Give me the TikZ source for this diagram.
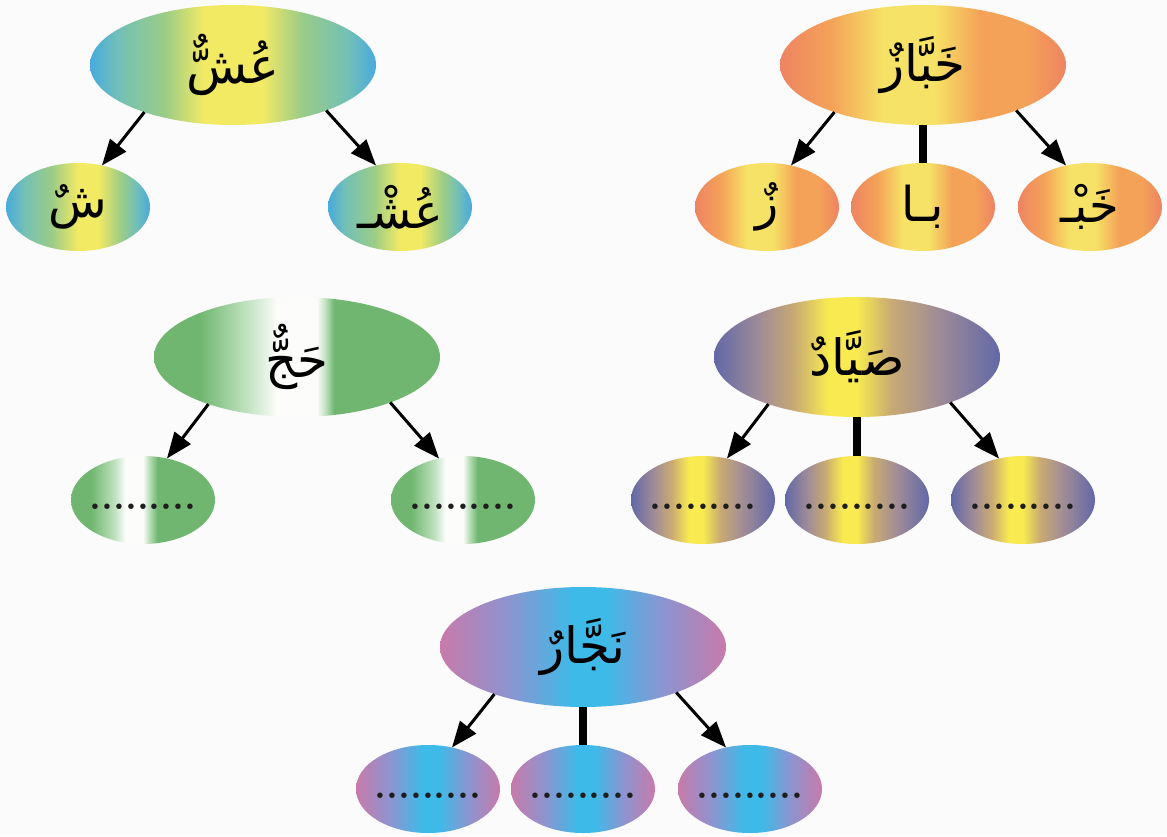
\documentclass[tikz,border=0pt]{standalone}
\usepackage{fontspec}
\usetikzlibrary{shapes.geometric,arrows.meta}
\TeXXeTstate=1
\newfontfamily\arabicfont[Script=Arabic]{DejaVu Sans}
% colours
\definecolor{bgc}{RGB}{251,251,251}
\definecolor{gBlue}{RGB}{72,170,222}
\definecolor{gTeal}{RGB}{115,192,182}
\definecolor{gGreen}{RGB}{155,204,135}
\definecolor{gYellow}{RGB}{243,234,100}
\definecolor{oSalmon}{RGB}{238,132,98}
\definecolor{oOrange}{RGB}{244,162,88}
\definecolor{oYellow}{RGB}{246,226,102}
\definecolor{vGreen}{RGB}{112,182,112}
\definecolor{vLight}{RGB}{190,225,190}
\definecolor{vWhite}{RGB}{252,252,250}
\definecolor{pSlate}{RGB}{98,104,168}
\definecolor{pMauve}{RGB}{160,140,150}
\definecolor{pTan}{RGB}{200,170,115}
\definecolor{pYellow}{RGB}{248,234,80}
\definecolor{mPink}{RGB}{200,122,170}
\definecolor{mLav}{RGB}{140,148,208}
\definecolor{mCyan}{RGB}{62,186,232}
\definecolor{dotc}{RGB}{30,30,30}
% shadings (25bp..75bp maps onto the ellipse)
\pgfdeclarehorizontalshading{blueyellowA}{100bp}{color(0bp)=(gBlue); color(25bp)=(gBlue); color(30bp)=(gTeal); color(38bp)=(gGreen); color(45bp)=(gYellow); color(55bp)=(gYellow); color(62bp)=(gGreen); color(70bp)=(gTeal); color(75bp)=(gBlue); color(100bp)=(gBlue)}
\pgfdeclarehorizontalshading{blueyellowB}{100bp}{color(0bp)=(gBlue); color(25bp)=(gBlue); color(31bp)=(gTeal); color(41bp)=(gGreen); color(50bp)=(gYellow); color(57bp)=(gYellow); color(65bp)=(gGreen); color(70bp)=(gTeal); color(75bp)=(gBlue); color(100bp)=(gBlue)}
\pgfdeclarehorizontalshading{orangeS}{100bp}{color(0bp)=(oSalmon); color(25bp)=(oSalmon); color(34bp)=(oOrange); color(43bp)=(oYellow); color(52bp)=(oYellow); color(60bp)=(oOrange); color(68bp)=(oOrange); color(75bp)=(oSalmon); color(100bp)=(oSalmon)}
\pgfdeclarehorizontalshading{greenA}{100bp}{color(0bp)=(vGreen); color(25bp)=(vGreen); color(33bp)=(vGreen); color(41bp)=(vLight); color(46.5bp)=(vWhite); color(53.5bp)=(vWhite); color(55bp)=(vLight); color(56.5bp)=(vGreen); color(75bp)=(vGreen); color(100bp)=(vGreen)}
\pgfdeclarehorizontalshading{greenB}{100bp}{color(0bp)=(vGreen); color(25bp)=(vGreen); color(32bp)=(vGreen); color(40bp)=(vLight); color(44bp)=(vWhite); color(50bp)=(vWhite); color(52bp)=(vLight); color(55bp)=(vGreen); color(75bp)=(vGreen); color(100bp)=(vGreen)}
\pgfdeclarehorizontalshading{slateS}{100bp}{color(0bp)=(pSlate); color(25bp)=(pSlate); color(33bp)=(pMauve); color(39bp)=(pTan); color(45bp)=(pYellow); color(50bp)=(pYellow); color(56bp)=(pTan); color(64bp)=(pMauve); color(75bp)=(pSlate); color(100bp)=(pSlate)}
\pgfdeclarehorizontalshading{pinkS}{100bp}{color(0bp)=(mPink); color(25bp)=(mPink); color(37bp)=(mLav); color(48bp)=(mCyan); color(54bp)=(mCyan); color(64bp)=(mLav); color(75bp)=(mPink); color(100bp)=(mPink)}
\tikzset{
  bigell/.style={ellipse, minimum width=286pt, minimum height=120pt, inner sep=0pt, outer sep=0pt},
  smallell/.style={ellipse, minimum width=144pt, minimum height=88pt, inner sep=0pt, outer sep=0pt},
  arw/.style={line width=3pt, -{Triangle[length=26pt,width=20pt]}},
  barline/.style={line width=8pt},
  ar/.style={font=\arabicfont\fontsize{50}{60}\selectfont},
  arsmall/.style={font=\arabicfont\fontsize{48}{58}\selectfont},
}
\newcommand{\blanks}{\makebox[0pt]{\raisebox{-9pt}[0pt][0pt]{\color{dotc}\fontsize{38}{38}\selectfont\bfseries .........}}}
\begin{document}
\begin{tikzpicture}[x=1pt,y=-1pt]
\fill[bgc] (0,0) rectangle (1167,836);
\useasboundingbox (0,0) rectangle (1167,836);
% group 1
\node[bigell, shading=blueyellowA, ar] (t1) at (233,65) {\beginR عُشٌّ\endR};
\node[smallell, shading=blueyellowB, arsmall] (c1a) at (78,207) {\beginR شٌ\endR};
\node[smallell, shading=blueyellowB, arsmall] (c1b) at (400,207) {\beginR عُشْـ\endR};
\draw[arw] (t1.208) -- (c1a.60);
\draw[arw] (t1.334) -- (c1b.120);
% group 2
\node[bigell, shading=orangeS, ar] (t2) at (923,65) {\beginR خَبَّازٌ\endR};
\node[smallell, shading=orangeS, arsmall] (c2a) at (767,207) {\beginR زٌ\endR};
\node[smallell, shading=orangeS, arsmall] (c2b) at (923,207) {\beginR بـا\endR};
\node[smallell, shading=orangeS, arsmall] (c2c) at (1090,207) {\beginR خَبْـ\endR};
\draw[arw] (t2.208) -- (c2a.60);
\draw[barline] (t2.south) -- (c2b.north);
\draw[arw] (t2.334) -- (c2c.120);
% group 3
\node[bigell, shading=greenA, ar] (t3) at (297,357) {\beginR حَجٌّ\endR};
\node[smallell, shading=greenB] (c3a) at (143,500) {\blanks};
\node[smallell, shading=greenB] (c3b) at (463,500) {\blanks};
\draw[arw] (t3.208) -- (c3a.60);
\draw[arw] (t3.334) -- (c3b.120);
% group 4
\node[bigell, shading=slateS, ar] (t4) at (857,357) {\beginR صَيَّادٌ\endR};
\node[smallell, shading=slateS] (c4a) at (703,500) {\blanks};
\node[smallell, shading=slateS] (c4b) at (857,500) {\blanks};
\node[smallell, shading=slateS] (c4c) at (1023,500) {\blanks};
\draw[arw] (t4.208) -- (c4a.60);
\draw[barline] (t4.south) -- (c4b.north);
\draw[arw] (t4.334) -- (c4c.120);
% group 5
\node[bigell, shading=pinkS, ar] (t5) at (583,647) {\beginR نَجَّارٌ\endR};
\node[smallell, shading=pinkS] (c5a) at (428,789) {\blanks};
\node[smallell, shading=pinkS] (c5b) at (583,789) {\blanks};
\node[smallell, shading=pinkS] (c5c) at (750,789) {\blanks};
\draw[arw] (t5.208) -- (c5a.60);
\draw[barline] (t5.south) -- (c5b.north);
\draw[arw] (t5.334) -- (c5c.120);
\end{tikzpicture}
\end{document}
